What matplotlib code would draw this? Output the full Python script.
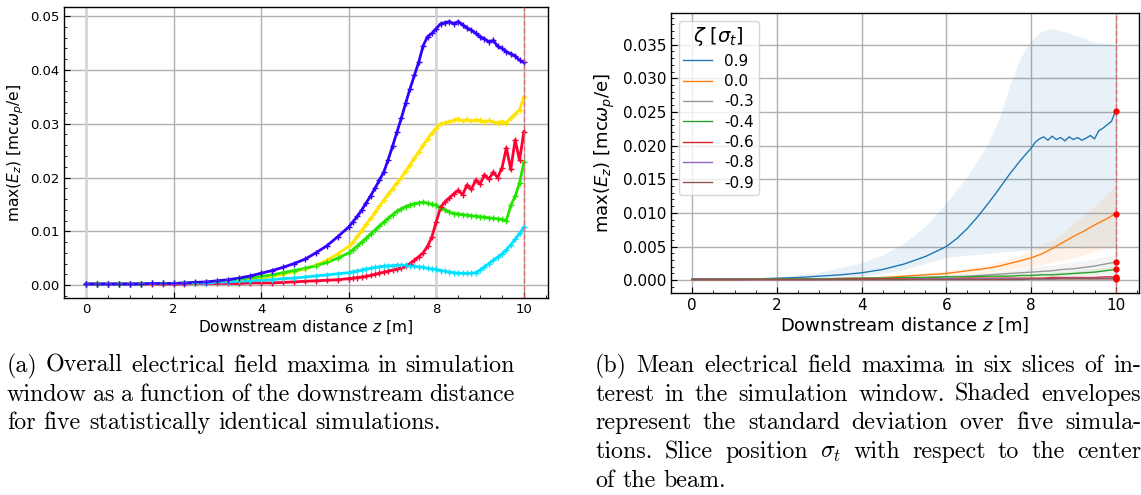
import numpy as np
import matplotlib
matplotlib.use("Agg")
import matplotlib.pyplot as plt
from matplotlib.ticker import AutoMinorLocator

# ---------------- data: left panel (five simulations) ----------------
z_left = [0, 0.25, 0.5, 0.75, 1, 1.25, 1.5, 1.75, 2, 2.25, 2.5, 2.75, 3, 3.25, 3.5, 3.75,
          4, 4.25, 4.5, 4.75, 5, 5.25, 5.5, 5.75,
          6.0, 6.1, 6.2, 6.3, 6.4, 6.5, 6.6, 6.7, 6.8, 6.9, 7.0, 7.1, 7.2, 7.3, 7.4, 7.5,
          7.6, 7.7, 7.8, 7.9, 8.0, 8.1, 8.2, 8.3, 8.4, 8.5, 8.6, 8.7, 8.8, 8.9, 9.0,
          9.1, 9.2, 9.3, 9.4, 9.5, 9.6, 9.7, 9.8, 9.9, 10.0]

sim_blue = [0.0002, 0.0002, 0.0002, 0.0002, 0.0002, 0.0002, 0.0003, 0.0003, 0.0003, 0.0004,
            0.0005, 0.0006, 0.0008, 0.0010, 0.0013, 0.0017, 0.0022, 0.0027, 0.0033, 0.0040,
            0.0048, 0.0060, 0.0073, 0.0090,
            0.0108, 0.0118, 0.0128, 0.0140, 0.0153, 0.0166, 0.0180, 0.0195, 0.0210, 0.0233,
            0.0258, 0.0284, 0.0310, 0.0338, 0.0365, 0.0390, 0.0415, 0.0445, 0.0462, 0.0468,
            0.0477, 0.0486, 0.0488, 0.0490, 0.0486, 0.0490, 0.0484, 0.0478, 0.0474, 0.0468,
            0.0462, 0.0458, 0.0452, 0.0455, 0.0444, 0.0440, 0.0434, 0.0430, 0.0426, 0.0418,
            0.0414]
sim_yellow = [0.0002, 0.0002, 0.0002, 0.0002, 0.0002, 0.0002, 0.0002, 0.0003, 0.0003, 0.0003,
              0.0004, 0.0005, 0.0006, 0.0007, 0.0009, 0.0011, 0.0013, 0.0016, 0.0020, 0.0025,
              0.0030, 0.0037, 0.0046, 0.0058,
              0.0072, 0.0080, 0.0091, 0.0102, 0.0113, 0.0124, 0.0135, 0.0147, 0.0158, 0.0169,
              0.0179, 0.0190, 0.0200, 0.0212, 0.0224, 0.0236, 0.0248, 0.0260, 0.0272, 0.0283,
              0.0292, 0.0300, 0.0302, 0.0304, 0.0306, 0.0309, 0.0305, 0.0308, 0.0305, 0.0307,
              0.0306, 0.0304, 0.0306, 0.0303, 0.0302, 0.0304, 0.0302, 0.0310, 0.0318, 0.0326,
              0.0350]
sim_green = [0.0002, 0.0002, 0.0002, 0.0002, 0.0002, 0.0002, 0.0003, 0.0003, 0.0003, 0.0004,
             0.0004, 0.0005, 0.0007, 0.0009, 0.0011, 0.0013, 0.0016, 0.0019, 0.0023, 0.0027,
             0.0031, 0.0036, 0.0042, 0.0050,
             0.0060, 0.0066, 0.0073, 0.0080, 0.0087, 0.0095, 0.0102, 0.0110, 0.0117, 0.0124,
             0.0131, 0.0137, 0.0142, 0.0146, 0.0149, 0.0151, 0.0153, 0.0154, 0.0152, 0.0150,
             0.0148, 0.0143, 0.0140, 0.0136, 0.0133, 0.0132, 0.0131, 0.0130, 0.0129, 0.0128,
             0.0127, 0.0126, 0.0125, 0.0124, 0.0123, 0.0122, 0.0120, 0.0148, 0.0165, 0.0190,
             0.0228]
sim_red = [0.0002, 0.0002, 0.0002, 0.0002, 0.0002, 0.0002, 0.0002, 0.0002, 0.0002, 0.0002,
           0.0003, 0.0003, 0.0003, 0.0003, 0.0003, 0.0004, 0.0004, 0.0004, 0.0005, 0.0006,
           0.0007, 0.0008, 0.0009, 0.0010,
           0.0012, 0.0013, 0.0014, 0.0015, 0.0016, 0.0018, 0.0020, 0.0022, 0.0024, 0.0026,
           0.0028, 0.0030, 0.0032, 0.0035, 0.0040, 0.0046, 0.0053, 0.0060, 0.0072, 0.0090,
           0.0118, 0.0145, 0.0155, 0.0162, 0.0170, 0.0176, 0.0168, 0.0186, 0.0178, 0.0195,
           0.0188, 0.0205, 0.0197, 0.0210, 0.0200, 0.0218, 0.0255, 0.0215, 0.0270, 0.0232,
           0.0285]
sim_cyan = [0.0002, 0.0002, 0.0002, 0.0002, 0.0002, 0.0002, 0.0003, 0.0003, 0.0003, 0.0003,
            0.0004, 0.0004, 0.0005, 0.0006, 0.0007, 0.0008, 0.0009, 0.0010, 0.0012, 0.0013,
            0.0015, 0.0017, 0.0019, 0.0021,
            0.0023, 0.0025, 0.0026, 0.0028, 0.0030, 0.0031, 0.0033, 0.0034, 0.0035, 0.0036,
            0.0036, 0.0037, 0.0037, 0.0037, 0.0036, 0.0035, 0.0034, 0.0033, 0.0031, 0.0030,
            0.0029, 0.0027, 0.0026, 0.0024, 0.0023, 0.0022, 0.0022, 0.0022, 0.0022, 0.0023,
            0.0028, 0.0034, 0.0040, 0.0046, 0.0052, 0.0058, 0.0066, 0.0075, 0.0085, 0.0096,
            0.0108]

left_series = [("yellow", sim_yellow, "#ffe400"),
               ("green", sim_green, "#22e600"),
               ("red", sim_red, "#ff0033"),
               ("cyan", sim_cyan, "#00e1ff"),
               ("blue", sim_blue, "#3300ff")]

# ---------------- data: right panel (slice means and envelopes) ----------------
z_fine = [0, 0.5, 1, 1.5, 2, 2.5, 3, 3.5, 4, 4.5, 5, 5.5, 6, 6.25, 6.5, 6.75, 7, 7.25, 7.5, 7.75,
          8.0, 8.1, 8.2, 8.3, 8.4, 8.5, 8.6, 8.7, 8.8, 8.9, 9.0, 9.1, 9.2, 9.3, 9.4, 9.5,
          9.6, 9.7, 9.8, 9.9, 10.0]
mean_09 = [0.0002, 0.0002, 0.0002, 0.0002, 0.0003, 0.0004, 0.0006, 0.0008, 0.0011, 0.0016,
           0.0024, 0.0035, 0.0050, 0.0062, 0.0077, 0.0095, 0.0115, 0.0136, 0.0158, 0.0178,
           0.0196, 0.0205, 0.0210, 0.0213, 0.0208, 0.0214, 0.0209, 0.0212, 0.0207, 0.0213,
           0.0209, 0.0212, 0.0208, 0.0211, 0.0215, 0.0210, 0.0222, 0.0226, 0.0231, 0.0236,
           0.0252]

z_band = [0, 1, 2, 3, 4, 4.5, 5, 5.5, 6, 6.5, 7, 7.25, 7.5, 7.75, 8, 8.25, 8.5, 8.75,
          9, 9.25, 9.5, 9.75, 10]
upper_09 = [0.0002, 0.0002, 0.0004, 0.0012, 0.0026, 0.0038, 0.0055, 0.0080, 0.0115, 0.0155,
            0.0205, 0.0240, 0.0290, 0.0330, 0.0357, 0.0370, 0.0374, 0.0370, 0.0365, 0.0360,
            0.0353, 0.0352, 0.0350]
lower_09 = [0.0001, 0.0001, 0.0002, 0.0003, 0.0006, 0.0010, 0.0016, 0.0025, 0.0034, 0.0037,
            0.0040, 0.0042, 0.0043, 0.0044, 0.0045, 0.0046, 0.0047, 0.0048, 0.0049, 0.0050,
            0.0050, 0.0050, 0.0050]
mean_00 = [0.0001, 0.0001, 0.0002, 0.0002, 0.0003, 0.0004, 0.0006, 0.0008, 0.0010, 0.0014,
           0.0018, 0.0021, 0.0025, 0.0029, 0.0033, 0.0039, 0.0047, 0.0056, 0.0065, 0.0073,
           0.0082, 0.0090, 0.0099]
upper_00 = [0.0001, 0.0001, 0.0002, 0.0003, 0.0005, 0.0006, 0.0008, 0.0011, 0.0014, 0.0018,
            0.0023, 0.0027, 0.0031, 0.0037, 0.0045, 0.0052, 0.0060, 0.0070, 0.0085, 0.0097,
            0.0110, 0.0125, 0.0142]
lower_00 = [0.0001, 0.0001, 0.0001, 0.0001, 0.0002, 0.0002, 0.0003, 0.0004, 0.0006, 0.0009,
            0.0012, 0.0014, 0.0016, 0.0018, 0.0020, 0.0023, 0.0027, 0.0030, 0.0033, 0.0038,
            0.0043, 0.0047, 0.0050]
mean_m03 = [0.0001, 0.0001, 0.0002, 0.0002, 0.0003, 0.0003, 0.0004, 0.0004, 0.0005, 0.0006,
            0.0008, 0.0009, 0.0010, 0.0011, 0.0012, 0.0013, 0.0014, 0.0016, 0.0017, 0.0019,
            0.0021, 0.0024, 0.0027]
upper_m03 = [0.0001, 0.0001, 0.0002, 0.0003, 0.0004, 0.0005, 0.0006, 0.0007, 0.0008, 0.0010,
             0.0012, 0.0013, 0.0015, 0.0017, 0.0019, 0.0021, 0.0023, 0.0025, 0.0027, 0.0029,
             0.0032, 0.0035, 0.0038]
lower_m03 = [0.0001, 0.0001, 0.0001, 0.0001, 0.0002, 0.0002, 0.0002, 0.0002, 0.0003, 0.0003,
             0.0004, 0.0005, 0.0005, 0.0006, 0.0006, 0.0007, 0.0007, 0.0008, 0.0009, 0.0010,
             0.0012, 0.0014, 0.0016]
mean_m04 = [0.0001, 0.0001, 0.0002, 0.0002, 0.0003, 0.0003, 0.0004, 0.0004, 0.0005, 0.0005,
            0.0006, 0.0006, 0.0006, 0.0007, 0.0007, 0.0008, 0.0008, 0.0009, 0.0010, 0.0011,
            0.0012, 0.0014, 0.0016]
upper_m04 = [0.0001, 0.0001, 0.0002, 0.0002, 0.0003, 0.0004, 0.0005, 0.0005, 0.0006, 0.0007,
             0.0008, 0.0008, 0.0009, 0.0009, 0.0010, 0.0011, 0.0012, 0.0013, 0.0014, 0.0016,
             0.0017, 0.0019, 0.0022]
lower_m04 = [0.0001, 0.0001, 0.0001, 0.0001, 0.0002, 0.0002, 0.0003, 0.0003, 0.0004, 0.0004,
             0.0004, 0.0004, 0.0004, 0.0005, 0.0005, 0.0005, 0.0005, 0.0006, 0.0006, 0.0007,
             0.0008, 0.0009, 0.0010]
mean_m06 = [0.0001, 0.0001, 0.0001, 0.0001, 0.0002, 0.0002, 0.0002, 0.0002, 0.0002, 0.0003,
            0.0003, 0.0003, 0.0003, 0.0003, 0.0003, 0.0003, 0.0004, 0.0004, 0.0004, 0.0004,
            0.0004, 0.0005, 0.0005]
upper_m06 = [0.0001, 0.0001, 0.0002, 0.0002, 0.0003, 0.0003, 0.0003, 0.0003, 0.0003, 0.0004,
             0.0004, 0.0004, 0.0004, 0.0005, 0.0005, 0.0005, 0.0006, 0.0006, 0.0006, 0.0006,
             0.0007, 0.0007, 0.0007]
lower_m06 = [0.0001, 0.0001, 0.0001, 0.0001, 0.0001, 0.0001, 0.0001, 0.0001, 0.0001, 0.0002,
             0.0002, 0.0002, 0.0002, 0.0002, 0.0002, 0.0002, 0.0002, 0.0002, 0.0002, 0.0002,
             0.0002, 0.0003, 0.0003]
mean_m08 = [0.0001, 0.0001, 0.0001, 0.0001, 0.0001, 0.0001, 0.0001, 0.0002, 0.0002, 0.0002,
            0.0002, 0.0002, 0.0002, 0.0002, 0.0002, 0.0002, 0.0002, 0.0003, 0.0003, 0.0003,
            0.0003, 0.0003, 0.0003]
upper_m08 = [0.0001, 0.0001, 0.0002, 0.0002, 0.0002, 0.0002, 0.0002, 0.0003, 0.0003, 0.0003,
             0.0003, 0.0003, 0.0003, 0.0003, 0.0004, 0.0004, 0.0004, 0.0004, 0.0004, 0.0004,
             0.0005, 0.0005, 0.0005]
lower_m08 = [0.0001, 0.0001, 0.0001, 0.0001, 0.0001, 0.0001, 0.0001, 0.0001, 0.0001, 0.0001,
             0.0001, 0.0001, 0.0001, 0.0001, 0.0001, 0.0001, 0.0001, 0.0002, 0.0002, 0.0002,
             0.0002, 0.0002, 0.0002]
mean_m09 = [0.0001, 0.0001, 0.0001, 0.0001, 0.0001, 0.0001, 0.0001, 0.0001, 0.0001, 0.0001,
            0.0001, 0.0001, 0.0001, 0.0001, 0.0002, 0.0002, 0.0002, 0.0002, 0.0002, 0.0002,
            0.0002, 0.0002, 0.0002]
upper_m09 = [0.0001, 0.0001, 0.0001, 0.0002, 0.0002, 0.0002, 0.0002, 0.0002, 0.0002, 0.0002,
             0.0002, 0.0002, 0.0002, 0.0003, 0.0003, 0.0003, 0.0003, 0.0003, 0.0003, 0.0003,
             0.0003, 0.0003, 0.0003]
lower_m09 = [0.0001, 0.0001, 0.0001, 0.0001, 0.0001, 0.0001, 0.0001, 0.0001, 0.0001, 0.0001,
             0.0001, 0.0001, 0.0001, 0.0001, 0.0001, 0.0001, 0.0001, 0.0001, 0.0001, 0.0001,
             0.0001, 0.0001, 0.0001]

slice_labels = ["0.9", "0.0", "-0.3", "-0.4", "-0.6", "-0.8", "-0.9"]
slice_colors = ["tab:blue", "tab:orange", "#999999", "tab:green", "tab:red", "tab:purple", "tab:brown"]
slice_data = [(z_fine, mean_09, upper_09, lower_09),
              (z_band, mean_00, upper_00, lower_00),
              (z_band, mean_m03, upper_m03, lower_m03),
              (z_band, mean_m04, upper_m04, lower_m04),
              (z_band, mean_m06, upper_m06, lower_m06),
              (z_band, mean_m08, upper_m08, lower_m08),
              (z_band, mean_m09, upper_m09, lower_m09)]

caption_a = ["(a) Overall electrical field maxima in simulation",
             "window as a function of the downstream distance",
             "for five statistically identical simulations."]
caption_b = ["(b) Mean electrical field maxima in six slices of in-",
             "terest in the simulation window. Shaded envelopes",
             "represent the standard deviation over five simula-",
             r"tions. Slice position $\sigma_t$ with respect to the center",
             "of the beam."]

# ---------------- figure ----------------
W, H = 1141, 495
fig = plt.figure(figsize=(W / 100, H / 100), dpi=100)

def px_axes(x0, y0, x1, y1):
    return fig.add_axes([x0 / W, 1 - y1 / H, (x1 - x0) / W, (y1 - y0) / H])

def style(ax, tick_fs):
    ax.grid(True, color="#b0b0b0", lw=1.0)
    ax.set_axisbelow(True)
    ax.xaxis.set_minor_locator(AutoMinorLocator())
    ax.yaxis.set_minor_locator(AutoMinorLocator())
    ax.tick_params(which="both", direction="in", labelsize=tick_fs)
    ax.tick_params(which="major", length=4)
    ax.tick_params(which="minor", length=2)
    for s in ax.spines.values():
        s.set_linewidth(1.0)

# left panel
axL = px_axes(64, 7, 548, 298)
for name, vals, col in left_series:
    axL.plot(z_left, vals, color=col, lw=2.0, ls="-", zorder=2)
    axL.plot(z_left, vals, color=col, lw=0, marker="+", ms=5, mew=1.0, zorder=3)
axL.axvline(0, color="#d4d4d4", lw=1.8, zorder=1)
axL.axvline(8, color="#d4d4d4", lw=1.8, zorder=1)
axL.axvline(10, color="#e06060", lw=1.0, ls="--", alpha=0.8, zorder=4)
axL.set_xlim(-0.5, 10.55)
axL.set_ylim(-0.0024, 0.0517)
axL.set_xticks([0, 2, 4, 6, 8, 10])
axL.set_yticks([0, 0.01, 0.02, 0.03, 0.04, 0.05])
style(axL, 9.5)
axL.set_xlabel("Downstream distance $z$ [m]", fontsize=11.2, labelpad=2)
axL.set_ylabel(r"max($E_z$) [mc$\omega_p$/e]", fontsize=11.2, labelpad=3)

# right panel
axR = px_axes(671, 13, 1139, 293)
for (zz, m, up, lo), lab, col in zip(slice_data, slice_labels, slice_colors):
    axR.fill_between(z_band, lo, up, color=col, alpha=0.1, lw=0)
for (zz, m, up, lo), lab, col in zip(slice_data, slice_labels, slice_colors):
    axR.plot(zz, m, color=col, lw=1.0, label=lab)
for (zz, m, up, lo), lab, col in zip(slice_data, slice_labels, slice_colors):
    axR.plot([zz[-1]], [m[-1]], "o", color="red", ms=3.5, zorder=5)
axR.axvline(10, color="#e06060", lw=1.0, ls="--", alpha=0.8, zorder=4)
axR.set_xlim(-0.5, 10.55)
axR.set_ylim(-0.0019, 0.0397)
axR.set_xticks([0, 2, 4, 6, 8, 10])
axR.set_yticks([0, 0.005, 0.01, 0.015, 0.02, 0.025, 0.03, 0.035])
style(axR, 11)
axR.set_xlabel("Downstream distance $z$ [m]", fontsize=13, labelpad=2)
axR.set_ylabel(r"max($E_z$) [mc$\omega_p$/e]", fontsize=13, labelpad=4)
leg = axR.legend(loc="upper left", title=r"$\zeta$ [$\sigma_t$]", fontsize=11,
                 title_fontsize=14, handlelength=1.9, labelspacing=0.35,
                 borderpad=0.3, borderaxespad=0.5)

# ---------------- captions (justified, Computer Modern) ----------------
renderer = fig.canvas.get_renderer()
CAP_FS = 17.3

def caption_line(text, x0, x1, y, justify):
    words = text.split(" ")
    objs = [fig.text(0, 1 - y / H, w, fontsize=CAP_FS, family="cmr10",
                     math_fontfamily="cm", va="baseline", ha="left") for w in words]
    widths = [o.get_window_extent(renderer).width for o in objs]
    if justify and len(words) > 1:
        gap = (x1 - x0 - sum(widths)) / (len(words) - 1)
    else:
        gap = CAP_FS * 100 / 72 * 0.333
    x = x0
    for o, w in zip(objs, widths):
        o.set_x(x / W)
        x += w + gap

line_h = 28.7
for i, t in enumerate(caption_a):
    caption_line(t, 7, 515, 372 + i * line_h, i < len(caption_a) - 1)
for i, t in enumerate(caption_b):
    caption_line(t, 595, 1141, 372 + i * line_h, i < len(caption_b) - 1)

fig.savefig("out.png", dpi=100)
